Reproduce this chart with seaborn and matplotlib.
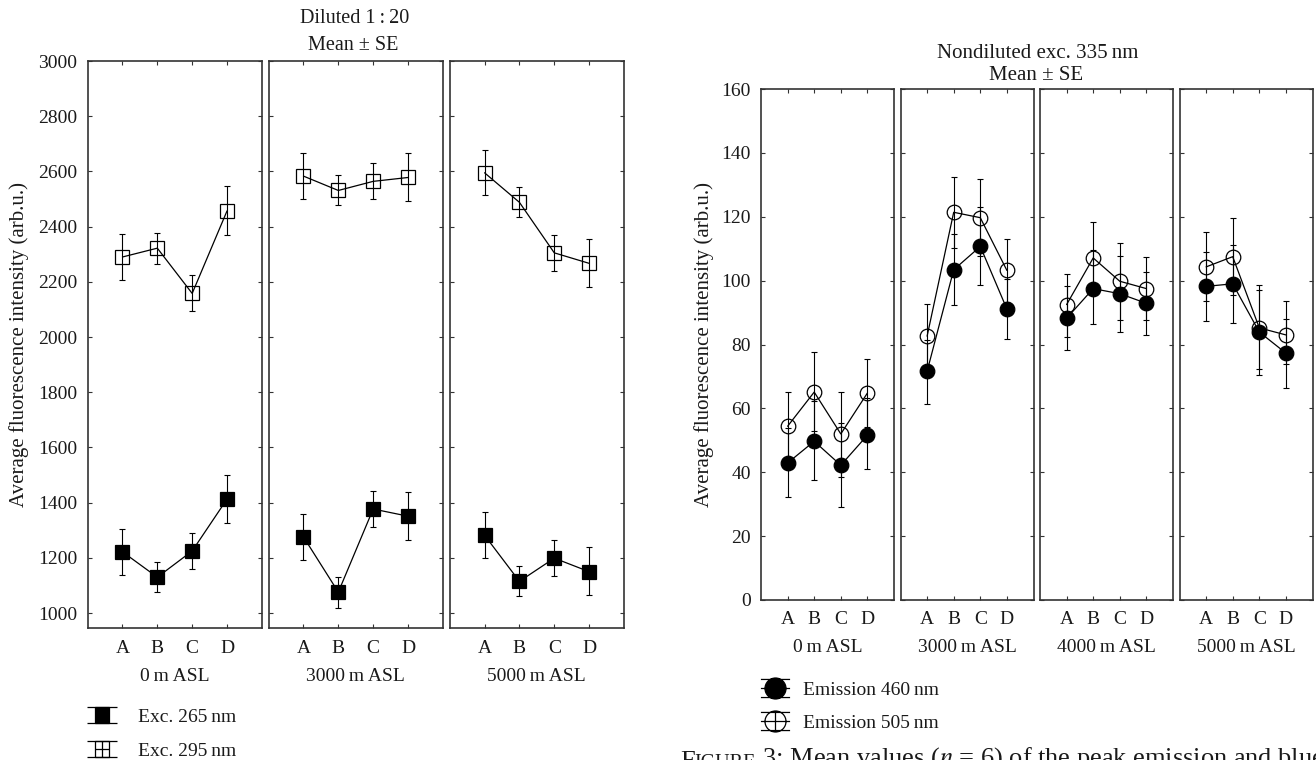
import numpy as np
import matplotlib
matplotlib.use("Agg")
import matplotlib.pyplot as plt
import seaborn as sns
from matplotlib.path import Path
from matplotlib.lines import Line2D

# ---------------- data ----------------
cats = ["A", "B", "C", "D"]

left_groups = ["0\u2009m ASL", "3000\u2009m ASL", "5000\u2009m ASL"]
exc265_mean = [[1222, 1130, 1225, 1413], [1276, 1076, 1377, 1351], [1282, 1115, 1199, 1150]]
exc265_low = [[1138, 1077, 1160, 1327], [1192, 1020, 1312, 1263], [1201, 1061, 1135, 1064]]
exc265_high = [[1304, 1186, 1291, 1501], [1360, 1132, 1443, 1437], [1366, 1172, 1264, 1238]]
exc295_mean = [[2290, 2322, 2158, 2457], [2583, 2531, 2564, 2578], [2595, 2488, 2305, 2267]]
exc295_low = [[2208, 2266, 2094, 2370], [2499, 2478, 2499, 2492], [2513, 2434, 2240, 2181]]
exc295_high = [[2373, 2378, 2224, 2546], [2666, 2588, 2630, 2666], [2679, 2542, 2369, 2355]]

right_groups = ["0\u2009m ASL", "3000\u2009m ASL", "4000\u2009m ASL", "5000\u2009m ASL"]
em460_mean = [[42.9, 49.7, 42.2, 51.6], [71.6, 103.4, 110.7, 91.1], [88.2, 97.5, 95.9, 92.9], [98.2, 99.0, 83.9, 77.3]]
em460_low = [[32.3, 37.5, 29.2, 40.9], [61.5, 92.3, 98.6, 81.6], [78.4, 86.5, 83.9, 83.1], [87.4, 86.7, 70.6, 66.5]]
em460_high = [[53.9, 62.2, 55.5, 63.1], [81.4, 114.6, 123.0, 100.6], [98.2, 109.7, 107.8, 102.6], [109.1, 111.1, 97.0, 88.0]]
em505_mean = [[54.4, 65.1, 52.0, 64.8], [82.6, 121.4, 119.7, 103.2], [92.5, 107.1, 99.8, 97.5], [104.3, 107.5, 85.2, 83.0]]
em505_low = [[43.7, 52.9, 38.5, 54.1], [72.6, 110.2, 107.6, 93.4], [82.4, 95.6, 87.6, 87.6], [93.5, 95.6, 72.2, 73.8]]
em505_high = [[65.1, 77.6, 65.1, 75.5], [92.6, 132.6, 131.9, 113.0], [102.2, 118.2, 111.8, 107.3], [115.1, 119.7, 98.5, 93.5]]

left_yticks = list(range(1000, 3001, 200))
right_yticks = list(range(0, 161, 20))

left_title = ["Diluted 1\u2009:\u200920", "Mean \u00b1 SE"]
right_title = ["Nondiluted exc. 335\u2009nm", "Mean \u00b1 SE"]
ylabel = "Average fluorescence intensity (arb.u.)"
left_legend = ["Exc. 265\u2009nm", "Exc. 295\u2009nm"]
right_legend = ["Emission 460\u2009nm", "Emission 505\u2009nm"]
caption = ["F", "IGURE", " 3: Mean values ($n$ = 6) of the peak emission and blue"]

# ---------------- style ----------------
sns.set_theme(style="white")
plt.rcParams["font.family"] = ["Liberation Serif", "DejaVu Serif"]
plt.rcParams["mathtext.fontset"] = "stix"

W, H = 1316, 760
fig = plt.figure(figsize=(W / 100, H / 100), dpi=100)
fig.patch.set_facecolor("white")

FS = 14
TXT = "#1a1a1a"
SPINE = "#333333"


def rect(x0, x1, ytop, ybot):
    return [x0 / W, 1 - ybot / H, (x1 - x0) / W, (ybot - ytop) / H]


def draw_series(ax, x, m, lo, hi, marker, fc, ms):
    m = np.asarray(m, float)
    lo = np.asarray(lo, float)
    hi = np.asarray(hi, float)
    ax.errorbar(x, m, yerr=[m - lo, hi - m], fmt="none", ecolor="black",
                elinewidth=0.8, capsize=2.2, capthick=0.8, zorder=2)
    sns.lineplot(x=x, y=m, ax=ax, color="black", linewidth=0.9, marker=marker,
                 markersize=ms, markerfacecolor=fc, markeredgecolor="black",
                 markeredgewidth=0.9, legend=False, zorder=3)


def style_axes(ax, first, yticks, ylim, xpad, ypad, lpad, group):
    x = np.arange(len(cats))
    ax.set_xlim(-1, 4)
    ax.set_ylim(*ylim)
    ax.set_xticks(x)
    ax.set_xticklabels(cats)
    ax.set_yticks(yticks)
    ax.tick_params(direction="in", top=True, right=True, bottom=True, left=True,
                   length=3, width=0.8, color=SPINE, labelsize=FS, labelcolor=TXT)
    ax.tick_params(axis="x", pad=xpad)
    ax.tick_params(axis="y", pad=ypad)
    if not first:
        ax.tick_params(labelleft=False)
    for s in ax.spines.values():
        s.set_color(SPINE)
        s.set_linewidth(1.2)
        s.set_visible(True)
    ax.set_xlabel(group, fontsize=FS, labelpad=lpad, color=TXT)
    ax.set_ylabel("")
    ax.grid(False)
    ax.set_facecolor("white")


# ---------------- left chart ----------------
left_x = [(87.6, 261.9), (268.6, 442.9), (449.7, 624.0)]
for i, g in enumerate(left_groups):
    ax = fig.add_axes(rect(left_x[i][0], left_x[i][1], 61, 628))
    x = np.arange(len(cats))
    draw_series(ax, x, exc295_mean[i], exc295_low[i], exc295_high[i], "s", "none", 9.8)
    draw_series(ax, x, exc265_mean[i], exc265_low[i], exc265_high[i], "s", "black", 9.8)
    style_axes(ax, i == 0, left_yticks, (946, 3000), 8.8, 7.4, 7.5, g)

# ---------------- right chart ----------------
right_x = [(761.0, 894.0), (900.5, 1033.5), (1040.0, 1173.0), (1179.5, 1312.5)]
for i, g in enumerate(right_groups):
    ax = fig.add_axes(rect(right_x[i][0], right_x[i][1], 89, 600))
    x = np.arange(len(cats))
    draw_series(ax, x, em460_mean[i], em460_low[i], em460_high[i], "o", "black", 10.5)
    draw_series(ax, x, em505_mean[i], em505_low[i], em505_high[i], "o", "none", 10.5)
    style_axes(ax, i == 0, right_yticks, (0, 160), 8.2, 7.2, 7.5, g)

# ---------------- titles / labels ----------------
fig.text(355 / W, 1 - 18.5 / H, left_title[0], ha="center", va="center", fontsize=14.5, color=TXT)
fig.text(353 / W, 1 - 46 / H, left_title[1], ha="center", va="center", fontsize=14.5, color=TXT)
fig.text(1038 / W, 1 - 54 / H, right_title[0], ha="center", va="center", fontsize=15, color=TXT)
fig.text(1036 / W, 1 - 75 / H, right_title[1], ha="center", va="center", fontsize=15, color=TXT)
fig.text(19 / W, 1 - 344.5 / H, ylabel, rotation=90, ha="center", va="center", fontsize=15, color=TXT)
fig.text(704 / W, 1 - 344.5 / H, ylabel, rotation=90, ha="center", va="center", fontsize=15, color=TXT)

# ---------------- legends ----------------
def sq_symbol():
    hw, hh = 0.5, 0.58
    sq = Path([(-hw, -hh), (hw, -hh), (hw, hh), (-hw, hh), (-hw, -hh)],
              [Path.MOVETO, Path.LINETO, Path.LINETO, Path.LINETO, Path.CLOSEPOLY])
    segs = [((-1, hh), (1, hh)), ((-1, -hh), (1, -hh)),
            ((0, -hh), (0, hh)), ((-hw, 0), (hw, 0))]
    paths = [sq] + [Path(list(s), [Path.MOVETO, Path.LINETO]) for s in segs]
    return Path.make_compound_path(*paths)


def circ_symbol():
    r, ly = 0.72, 0.62
    c = Path.circle((0, 0), r)
    segs = [((-1, ly), (1, ly)), ((-1, -ly), (1, -ly)), ((-1, 0), (1, 0)),
            ((0, -r), (0, r))]
    paths = [c] + [Path(list(s), [Path.MOVETO, Path.LINETO]) for s in segs]
    return Path.make_compound_path(*paths)


sqp = sq_symbol()
cp = circ_symbol()
lh = [Line2D([], [], linestyle="none", marker=sqp, markersize=21, markerfacecolor="black",
             markeredgecolor="black", markeredgewidth=0.9),
      Line2D([], [], linestyle="none", marker=sqp, markersize=21, markerfacecolor="none",
             markeredgecolor="black", markeredgewidth=0.9)]
rh = [Line2D([], [], linestyle="none", marker=cp, markersize=21, markerfacecolor="black",
             markeredgecolor="black", markeredgewidth=0.9),
      Line2D([], [], linestyle="none", marker=cp, markersize=21, markerfacecolor="none",
             markeredgecolor="black", markeredgewidth=0.9)]

fig.legend(handles=lh, labels=left_legend, loc="center left",
           bbox_to_anchor=(87.5 / W, 1 - 734 / H), frameon=False, fontsize=FS,
           handlelength=1.49, handletextpad=1.1, labelspacing=0.82, borderpad=0,
           borderaxespad=0, numpoints=1, labelcolor=TXT)
fig.legend(handles=rh, labels=right_legend, loc="center left",
           bbox_to_anchor=(761 / W, 1 - 706.5 / H), frameon=False, fontsize=FS,
           handlelength=1.49, handletextpad=0.68, labelspacing=0.77, borderpad=0,
           borderaxespad=0, numpoints=1, labelcolor=TXT)

# ---------------- caption (cut at the bottom edge, as in the reference) ----------------
cax = fig.add_axes([0, 0, 1, 1], facecolor="none")
cax.set_axis_off()
t1 = cax.text(680 / W, -7.5 / H, caption[0], fontsize=19, va="baseline", ha="left",
              color=TXT, transform=fig.transFigure)
t2 = cax.annotate(caption[1], xy=(1, 0), xycoords=t1, va="bottom", ha="left",
                  fontsize=14.5, color=TXT, annotation_clip=False)
t3 = cax.annotate(caption[2], xy=(1, 0), xycoords=t2, va="bottom", ha="left",
                  fontsize=19, color=TXT, annotation_clip=False)

fig.savefig("out.png", dpi=100)
